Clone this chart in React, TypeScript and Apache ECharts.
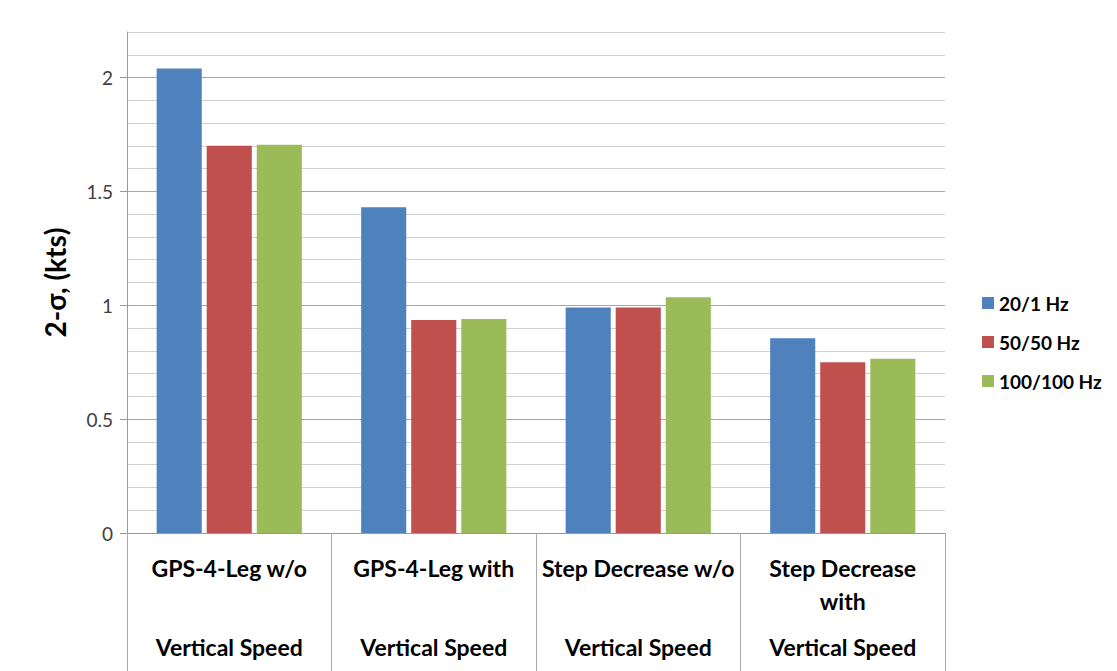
import React, { useEffect, useRef } from "react";
import * as echarts from "echarts";

const categories = ["GPS-4-Leg w/o", "GPS-4-Leg with", "Step Decrease w/o", "Step Decrease\nwith"];
const subCategories = ["Vertical Speed", "Vertical Speed", "Vertical Speed", "Vertical Speed"];
const seriesNames = ["20/1 Hz", "50/50 Hz", "100/100 Hz"];
const s20 = [2.04, 1.43, 0.99, 0.855];
const s50 = [1.70, 0.935, 0.99, 0.75];
const s100 = [1.705, 0.94, 1.035, 0.765];
const colors = ["#4F81BD", "#C0504D", "#9BBB59"];

const FONT = "Lato, sans-serif";

export default function App() {
  const ref = useRef<HTMLDivElement>(null);
  useEffect(() => {
    const chart = echarts.init(ref.current!, null, { renderer: "svg" });
    const data = [s20, s50, s100];
    chart.setOption({
      animation: false,
      textStyle: { fontFamily: FONT },
      grid: { left: 127, right: 172, top: 32, bottom: 138 },
      legend: {
        orient: "vertical",
        left: 977,
        top: 288,
        itemWidth: 12,
        itemHeight: 12,
        itemGap: 19,
        icon: "rect",
        textStyle: { fontSize: 19, lineHeight: 20, fontWeight: "bold", color: "#000", fontFamily: FONT },
        data: seriesNames,
      },
      xAxis: [
        {
          type: "category",
          data: categories,
          position: "bottom",
          axisLine: { show: true, lineStyle: { color: "#999", width: 1 } },
          axisTick: { show: true, length: 140, lineStyle: { color: "#aaa" } },
          axisLabel: {
            interval: 0,
            margin: 18,
            lineHeight: 33,
            fontSize: 23,
            fontWeight: "bold",
            color: "#000",
            fontFamily: FONT,
          },
        },
        {
          type: "category",
          data: subCategories,
          position: "bottom",
          axisLine: { show: false },
          axisTick: { show: false },
          axisLabel: {
            interval: 0,
            margin: 102,
            lineHeight: 24,
            fontSize: 23,
            fontWeight: "bold",
            color: "#000",
            fontFamily: FONT,
          },
        },
      ],
      yAxis: [
        {
          type: "value",
          min: 0,
          max: 2.2,
          interval: 0.1,
          axisLine: { show: false },
          axisTick: { show: false },
          axisLabel: { show: false },
          splitLine: {
            show: true,
            lineStyle: { color: ["#a6a6a6", "#d0d0d0", "#d0d0d0", "#d0d0d0", "#d0d0d0"], width: 1 },
          },
        },
        {
          type: "value",
          min: 0,
          max: 2.2,
          interval: 0.5,
          position: "left",
          name: "2-σ, (kts)",
          nameLocation: "middle",
          nameGap: 58,
          nameRotate: 90,
          nameTextStyle: { fontSize: 28, fontWeight: "bold", color: "#000", fontFamily: FONT },
          axisLine: { show: true, lineStyle: { color: "#999" } },
          axisTick: { show: true, length: 7, lineStyle: { color: "#999" } },
          axisLabel: { showMaxLabel: false, fontSize: 19, color: "#404040", margin: 14, fontFamily: FONT },
          splitLine: { show: false },
        },
      ],
      series: seriesNames.map((name, i) => ({
        name,
        type: "bar",
        xAxisIndex: 0,
        yAxisIndex: 0,
        data: data[i],
        barGap: "11%",
        barCategoryGap: "29%",
        itemStyle: { color: colors[i] },
      })),
    });
    return () => chart.dispose();
  }, []);
  return (
    <div
      ref={ref}
      style={{ position: "fixed", left: 0, top: 0, width: 1117, height: 671, background: "#fff" }}
    />
  );
}
